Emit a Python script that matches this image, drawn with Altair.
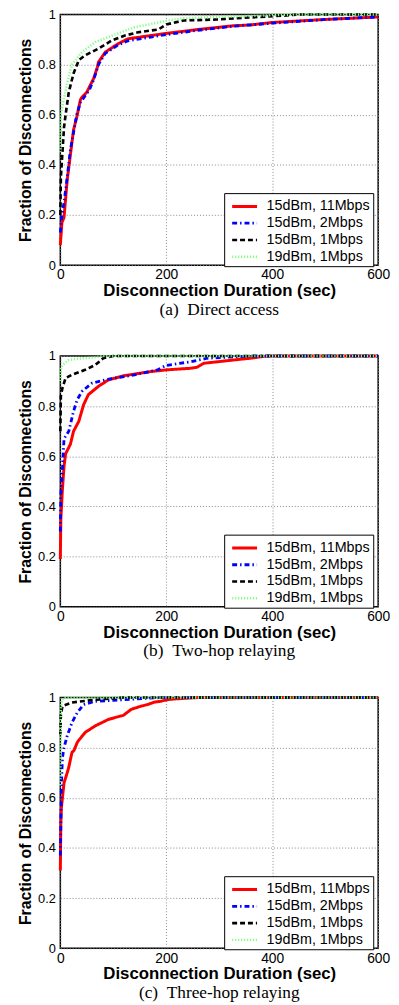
import altair as alt
import pandas as pd

SERIES = ["15dBm, 11Mbps", "15dBm, 2Mbps", "15dBm, 1Mbps", "19dBm, 1Mbps"]
COLORS = ["#ff0000", "#0000ff", "#000000", "#80ff80"]
DASHES = [[1, 0], [5, 3, 1.5, 3], [5, 3], [1.2, 1.8]]
WIDTHS = [3, 2.5, 2.5, 1.4]
CAPTIONS = ["(a)\u00a0\u00a0Direct access", "(b)\u00a0\u00a0Two-hop relaying", "(c)\u00a0\u00a0Three-hop relaying"]
X_TICKS = [0, 200, 400, 600]
Y_TICKS = [0, 0.2, 0.4, 0.6, 0.8, 1]

# ---- (a) Direct access ----
red_a_x = [0, 3, 7, 13, 19, 25, 31, 38, 41, 50, 63, 70, 72, 85, 109, 128, 171, 202, 260, 327, 358, 400, 500, 600]
red_a_y = [0.08, 0.17, 0.19, 0.34, 0.44, 0.54, 0.59, 0.66, 0.67, 0.69, 0.745, 0.79, 0.81, 0.85, 0.883, 0.903, 0.916, 0.925, 0.94, 0.955, 0.958, 0.968, 0.98, 0.99]
blue_a_x = [0, 3, 7, 13, 19, 25, 31, 38, 45, 55, 63, 72, 85, 109, 128, 171, 202, 260, 327, 400, 500, 600]
blue_a_y = [0.13, 0.2, 0.25, 0.35, 0.46, 0.53, 0.6, 0.65, 0.67, 0.70, 0.74, 0.80, 0.845, 0.878, 0.895, 0.91, 0.92, 0.937, 0.953, 0.965, 0.98, 0.99]
black_a_x = [0, 1, 4, 7, 10, 16, 25, 35, 47, 72, 97, 122, 147, 171, 185, 200, 233, 296, 358, 420, 450, 600]
black_a_y = [0.2, 0.35, 0.45, 0.55, 0.6, 0.69, 0.765, 0.818, 0.837, 0.864, 0.896, 0.916, 0.929, 0.936, 0.94, 0.96, 0.976, 0.98, 0.988, 0.995, 1.0, 1.0]
green_a_x = [0, 1, 4, 13, 22, 41, 66, 91, 140, 171, 200, 233, 300, 450, 600]
green_a_y = [0.45, 0.6, 0.634, 0.726, 0.8, 0.85, 0.89, 0.91, 0.949, 0.962, 0.975, 0.985, 0.99, 1.0, 1.0]

# ---- (b) Two-hop relaying ----
red_b_x = [0, 1, 4, 7, 10, 19, 25, 35, 44, 53, 72, 91, 122, 171, 202, 246, 258, 271, 327, 358, 390, 600]
red_b_y = [0.19, 0.35, 0.47, 0.56, 0.61, 0.648, 0.70, 0.74, 0.806, 0.846, 0.879, 0.905, 0.922, 0.938, 0.945, 0.951, 0.955, 0.971, 0.984, 0.991, 1.0, 1.0]
blue_b_x = [0, 1, 4, 7, 16, 25, 32, 41, 60, 85, 140, 184, 199, 246, 277, 360, 600]
blue_b_y = [0.3, 0.45, 0.55, 0.67, 0.70, 0.78, 0.826, 0.859, 0.892, 0.905, 0.925, 0.945, 0.962, 0.977, 0.991, 1.0, 1.0]
black_b_x = [0, 1, 4, 10, 22, 47, 66, 81, 100, 600]
black_b_y = [0.7, 0.84, 0.872, 0.912, 0.925, 0.945, 0.964, 0.991, 1.0, 1.0]
green_b_x = [0, 1, 4, 16, 38, 66, 80, 600]
green_b_y = [0.9, 0.95, 0.964, 0.984, 0.99, 0.995, 1.0, 1.0]

# ---- (c) Three-hop relaying ----
red_c_x = [0, 1, 2, 4, 7, 13, 16, 22, 26, 32, 35, 47, 66, 91, 119, 134, 153, 165, 178, 190, 203, 221, 260, 600]
red_c_y = [0.31, 0.5, 0.56, 0.6, 0.66, 0.70, 0.722, 0.781, 0.79, 0.821, 0.83, 0.861, 0.887, 0.913, 0.929, 0.953, 0.966, 0.972, 0.982, 0.985, 0.992, 0.995, 1.0, 1.0]
blue_c_x = [0, 1, 2, 4, 7, 13, 22, 32, 44, 66, 109, 190, 600]
blue_c_y = [0.37, 0.5, 0.65, 0.76, 0.80, 0.847, 0.90, 0.94, 0.972, 0.985, 0.99, 1.0, 1.0]
black_c_x = [0, 1, 4, 22, 60, 120, 600]
black_c_y = [0.85, 0.93, 0.966, 0.98, 0.99, 1.0, 1.0]
green_c_x = [0, 1, 3, 10, 600]
green_c_y = [0.65, 0.95, 0.99, 1.0, 1.0]

PANELS = [
    [(red_a_x, red_a_y), (blue_a_x, blue_a_y), (black_a_x, black_a_y), (green_a_x, green_a_y)],
    [(red_b_x, red_b_y), (blue_b_x, blue_b_y), (black_b_x, black_b_y), (green_b_x, green_b_y)],
    [(red_c_x, red_c_y), (blue_c_x, blue_c_y), (black_c_x, black_c_y), (green_c_x, green_c_y)],
]


def panel(data, caption):
    rows = []
    for si, (xs, ys) in enumerate(data):
        for x, y in zip(xs, ys):
            rows.append({"series": SERIES[si], "x": x, "y": y})
    df = pd.DataFrame(rows)
    return (
        alt.Chart(df)
        .mark_line(strokeCap="butt", strokeJoin="round")
        .encode(
            x=alt.X("x:Q", scale=alt.Scale(domain=[0, 600], nice=False),
                    axis=alt.Axis(values=X_TICKS, title="Disconnection Duration (sec)")),
            y=alt.Y("y:Q", scale=alt.Scale(domain=[0, 1], nice=False),
                    axis=alt.Axis(values=Y_TICKS, format="~g", title="Fraction of Disconnections")),
            color=alt.Color("series:N", scale=alt.Scale(domain=SERIES, range=COLORS), title=None),
            strokeDash=alt.StrokeDash("series:N", scale=alt.Scale(domain=SERIES, range=DASHES), title=None),
            strokeWidth=alt.StrokeWidth("series:N", scale=alt.Scale(domain=SERIES, range=WIDTHS), title=None),
        )
        .properties(
            width=322,
            height=254,
            title=alt.TitleParams(caption, orient="bottom", font="Liberation Serif",
                                  fontSize=17.5, fontWeight="normal", color="black", offset=2),
        )
    )


chart = (
    alt.vconcat(*[panel(d, c) for d, c in zip(PANELS, CAPTIONS)], spacing=30)
    .resolve_legend(color="independent", strokeDash="independent", strokeWidth="independent")
    .properties(padding={"left": 9, "top": -7, "right": 0, "bottom": 0})
    .configure_view(stroke="black", strokeWidth=1.5)
    .configure_axis(
        labelFont="Liberation Sans", labelColor="black",
        titleFont="Liberation Sans", titleFontWeight="bold", titleColor="black",
        grid=True, gridDash=[1, 2], gridColor="#888888", gridWidth=1,
        domain=False, ticks=False, labelFlush=False,
    )
    .configure_axisX(labelFontSize=14, labelPadding=3, titlePadding=1, titleFontSize=17)
    .configure_axisY(labelFontSize=13, labelPadding=5, titlePadding=4, titleFontSize=16)
    .configure_legend(
        orient="none", legendX=166, legendY=181,
        symbolType="M-0.6,0L2.2,0", symbolSize=324, labelFont="Liberation Sans", labelFontSize=14.5,
        labelColor="black", fillColor="white", strokeColor="black", padding=3,
        rowPadding=-5, labelOffset=19, cornerRadius=0,
    )
)

chart.save("out.html", embed_options={"renderer": "svg", "actions": False})
